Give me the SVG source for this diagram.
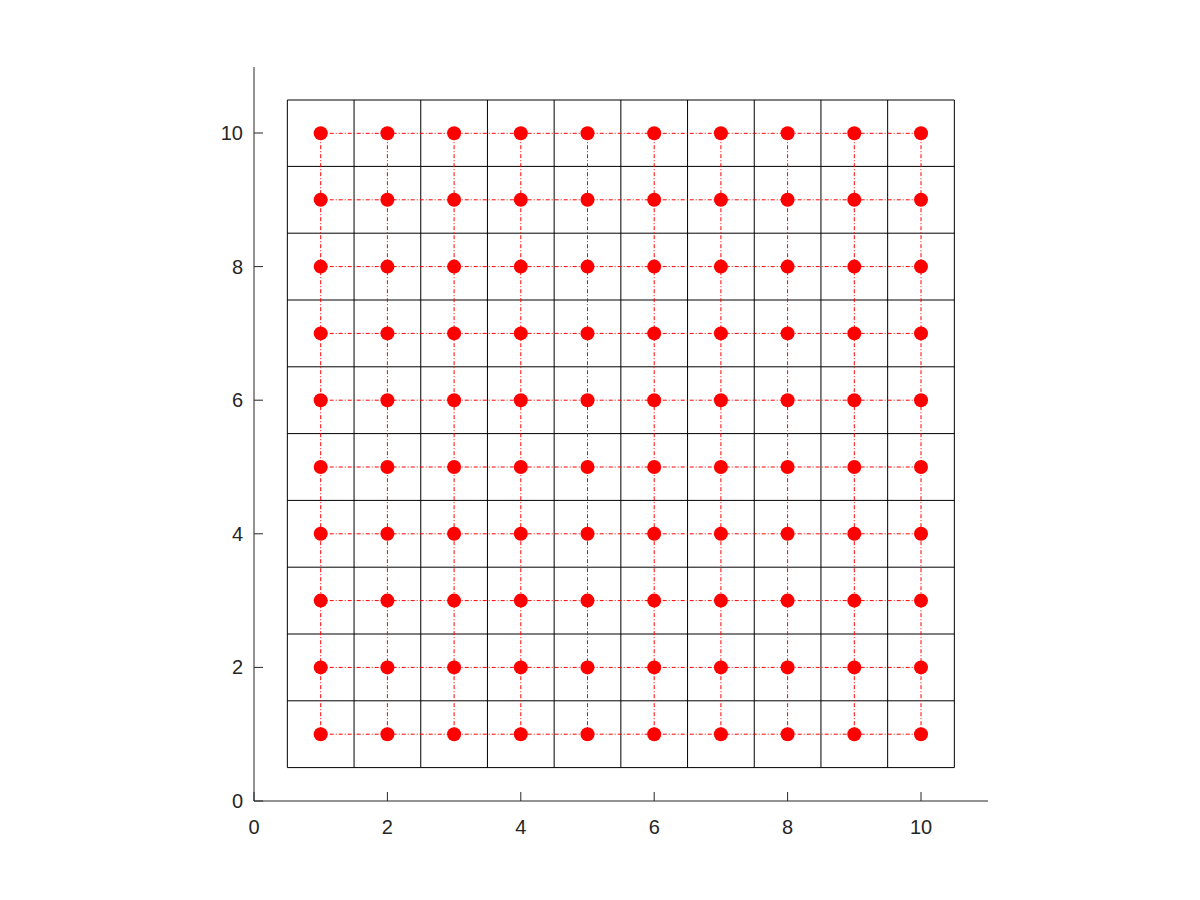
<svg xmlns="http://www.w3.org/2000/svg" width="1200" height="900" viewBox="0 0 1200 900">
<style>
.axis{stroke:#262626;stroke-width:1;fill:none}
.grid{stroke:#000;stroke-width:1;fill:none}
.conn{stroke:#ff0000;stroke-width:1;stroke-dasharray:4,2,1,2;fill:none}
.pt{fill:#ff0000}
.lbl{font-family:"Liberation Sans",Arial,sans-serif;font-size:20px;fill:#262626}
</style>
<rect width="1200" height="900" fill="#fff"/>
<g id="axes">
<path class="axis" d="M254 67V801H988"/>
<path class="axis" d="M254 801h9M254 667.4h9M254 533.8h9M254 400.2h9M254 266.6h9M254 133h9"/>
<path class="axis" d="M254 801v-9M387.4 801v-9M520.8 801v-9M654.2 801v-9M787.6 801v-9M921 801v-9"/>
<g class="lbl" text-anchor="end">
<text x="243" y="808">0</text>
<text x="243" y="674.4">2</text>
<text x="243" y="540.8">4</text>
<text x="243" y="407.2">6</text>
<text x="243" y="273.6">8</text>
<text x="243" y="140">10</text>
</g>
<g class="lbl" text-anchor="middle">
<text x="254" y="834">0</text>
<text x="387.4" y="834">2</text>
<text x="520.8" y="834">4</text>
<text x="654.2" y="834">6</text>
<text x="787.6" y="834">8</text>
<text x="921" y="834">10</text>
</g>
</g>
<g id="grid" class="grid">
<path d="M287.35 100V767.6M354.05 100V767.6M420.75 100V767.6M487.45 100V767.6M554.15 100V767.6M620.85 100V767.6M687.55 100V767.6M754.25 100V767.6M820.95 100V767.6M887.65 100V767.6M954.35 100V767.6"/>
<path d="M287.35 767.6H954.35M287.35 700.8H954.35M287.35 634H954.35M287.35 567.2H954.35M287.35 500.4H954.35M287.35 433.6H954.35M287.35 366.8H954.35M287.35 300H954.35M287.35 233.2H954.35M287.35 166.4H954.35M287.35 100H954.35"/>
</g>
<g id="connectors" class="conn">
<path d="M320.7 734.2H921M320.7 667.4H921M320.7 600.6H921M320.7 533.8H921M320.7 467H921M320.7 400.2H921M320.7 333.4H921M320.7 266.6H921M320.7 199.8H921M320.7 133.3H921"/>
<path d="M320.7 734.2V133.3M387.4 734.2V133.3M454.1 734.2V133.3M520.8 734.2V133.3M587.5 734.2V133.3M654.2 734.2V133.3M720.9 734.2V133.3M787.6 734.2V133.3M854.3 734.2V133.3M921 734.2V133.3"/>
</g>
<defs><circle id="p" r="7" class="pt"/></defs>
<g id="points">
<g id="row1"><use href="#p" x="320.7" y="734.2"/><use href="#p" x="387.4" y="734.2"/><use href="#p" x="454.1" y="734.2"/><use href="#p" x="520.8" y="734.2"/><use href="#p" x="587.5" y="734.2"/><use href="#p" x="654.2" y="734.2"/><use href="#p" x="720.9" y="734.2"/><use href="#p" x="787.6" y="734.2"/><use href="#p" x="854.3" y="734.2"/><use href="#p" x="921" y="734.2"/></g>
<g id="row2"><use href="#p" x="320.7" y="667.4"/><use href="#p" x="387.4" y="667.4"/><use href="#p" x="454.1" y="667.4"/><use href="#p" x="520.8" y="667.4"/><use href="#p" x="587.5" y="667.4"/><use href="#p" x="654.2" y="667.4"/><use href="#p" x="720.9" y="667.4"/><use href="#p" x="787.6" y="667.4"/><use href="#p" x="854.3" y="667.4"/><use href="#p" x="921" y="667.4"/></g>
<g id="row3"><use href="#p" x="320.7" y="600.6"/><use href="#p" x="387.4" y="600.6"/><use href="#p" x="454.1" y="600.6"/><use href="#p" x="520.8" y="600.6"/><use href="#p" x="587.5" y="600.6"/><use href="#p" x="654.2" y="600.6"/><use href="#p" x="720.9" y="600.6"/><use href="#p" x="787.6" y="600.6"/><use href="#p" x="854.3" y="600.6"/><use href="#p" x="921" y="600.6"/></g>
<g id="row4"><use href="#p" x="320.7" y="533.8"/><use href="#p" x="387.4" y="533.8"/><use href="#p" x="454.1" y="533.8"/><use href="#p" x="520.8" y="533.8"/><use href="#p" x="587.5" y="533.8"/><use href="#p" x="654.2" y="533.8"/><use href="#p" x="720.9" y="533.8"/><use href="#p" x="787.6" y="533.8"/><use href="#p" x="854.3" y="533.8"/><use href="#p" x="921" y="533.8"/></g>
<g id="row5"><use href="#p" x="320.7" y="467"/><use href="#p" x="387.4" y="467"/><use href="#p" x="454.1" y="467"/><use href="#p" x="520.8" y="467"/><use href="#p" x="587.5" y="467"/><use href="#p" x="654.2" y="467"/><use href="#p" x="720.9" y="467"/><use href="#p" x="787.6" y="467"/><use href="#p" x="854.3" y="467"/><use href="#p" x="921" y="467"/></g>
<g id="row6"><use href="#p" x="320.7" y="400.2"/><use href="#p" x="387.4" y="400.2"/><use href="#p" x="454.1" y="400.2"/><use href="#p" x="520.8" y="400.2"/><use href="#p" x="587.5" y="400.2"/><use href="#p" x="654.2" y="400.2"/><use href="#p" x="720.9" y="400.2"/><use href="#p" x="787.6" y="400.2"/><use href="#p" x="854.3" y="400.2"/><use href="#p" x="921" y="400.2"/></g>
<g id="row7"><use href="#p" x="320.7" y="333.4"/><use href="#p" x="387.4" y="333.4"/><use href="#p" x="454.1" y="333.4"/><use href="#p" x="520.8" y="333.4"/><use href="#p" x="587.5" y="333.4"/><use href="#p" x="654.2" y="333.4"/><use href="#p" x="720.9" y="333.4"/><use href="#p" x="787.6" y="333.4"/><use href="#p" x="854.3" y="333.4"/><use href="#p" x="921" y="333.4"/></g>
<g id="row8"><use href="#p" x="320.7" y="266.6"/><use href="#p" x="387.4" y="266.6"/><use href="#p" x="454.1" y="266.6"/><use href="#p" x="520.8" y="266.6"/><use href="#p" x="587.5" y="266.6"/><use href="#p" x="654.2" y="266.6"/><use href="#p" x="720.9" y="266.6"/><use href="#p" x="787.6" y="266.6"/><use href="#p" x="854.3" y="266.6"/><use href="#p" x="921" y="266.6"/></g>
<g id="row9"><use href="#p" x="320.7" y="199.8"/><use href="#p" x="387.4" y="199.8"/><use href="#p" x="454.1" y="199.8"/><use href="#p" x="520.8" y="199.8"/><use href="#p" x="587.5" y="199.8"/><use href="#p" x="654.2" y="199.8"/><use href="#p" x="720.9" y="199.8"/><use href="#p" x="787.6" y="199.8"/><use href="#p" x="854.3" y="199.8"/><use href="#p" x="921" y="199.8"/></g>
<g id="row10"><use href="#p" x="320.7" y="133.3"/><use href="#p" x="387.4" y="133.3"/><use href="#p" x="454.1" y="133.3"/><use href="#p" x="520.8" y="133.3"/><use href="#p" x="587.5" y="133.3"/><use href="#p" x="654.2" y="133.3"/><use href="#p" x="720.9" y="133.3"/><use href="#p" x="787.6" y="133.3"/><use href="#p" x="854.3" y="133.3"/><use href="#p" x="921" y="133.3"/></g>
</g>
</svg>
